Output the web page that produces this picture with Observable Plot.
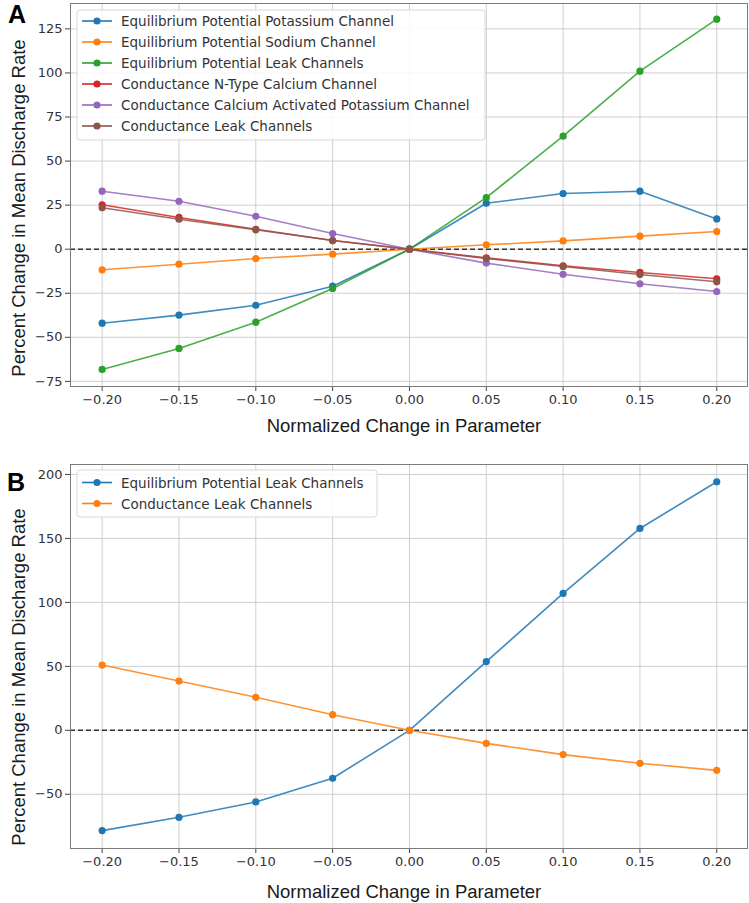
<!DOCTYPE html>
<html>
<head>
<meta charset="utf-8">
<script src="https://cdn.jsdelivr.net/npm/d3@7"></script>
<script src="https://cdn.jsdelivr.net/npm/@observablehq/plot@0.6"></script>
<style>
  html, body { margin: 0; padding: 0; background: white; }
  #wrap { position: relative; width: 749px; height: 903px; overflow: hidden; }
  #panelA { position: absolute; left: 0; top: 0; }
  #panelB { position: absolute; left: 0; top: 440px; }
  #overlay { position: absolute; left: 0; top: 0; pointer-events: none; }
</style>
</head>
<body>
<div id="wrap">
  <div id="panelA"></div>
  <div id="panelB"></div>
  <svg id="overlay" width="749" height="903"></svg>
</div>
<script>
// ---- data ----
const xValues = [-0.20, -0.15, -0.10, -0.05, 0.00, 0.05, 0.10, 0.15, 0.20];
const xTicks = [-0.20, -0.15, -0.10, -0.05, 0.00, 0.05, 0.10, 0.15, 0.20];
const yTicksA = [-75, -50, -25, 0, 25, 50, 75, 100, 125];
const yTicksB = [-50, 0, 50, 100, 150, 200];

const seriesNamesA = [
  "Equilibrium Potential Potassium Channel",
  "Equilibrium Potential Sodium Channel",
  "Equilibrium Potential Leak Channels",
  "Conductance N-Type Calcium Channel",
  "Conductance Calcium Activated Potassium Channel",
  "Conductance Leak Channels"
];
const eqPotassium = [-42.0, -37.4, -31.8, -21.0, 0, 26.1, 31.6, 32.9, 17.2];
const eqSodium    = [-11.7, -8.5, -5.3, -2.8, 0, 2.5, 4.7, 7.4, 10.0];
const eqLeak      = [-68.2, -56.3, -41.4, -22.3, 0, 29.3, 64.1, 101.0, 130.5];
const gNTypeCa    = [25.2, 18.0, 11.3, 4.9, 0, -4.9, -9.4, -13.2, -16.8];
const gCaActK     = [32.9, 27.2, 18.7, 8.9, 0, -7.9, -14.2, -19.6, -24.0];
const gLeak       = [23.5, 17.0, 11.0, 4.9, 0, -5.3, -9.8, -14.4, -18.5];

const seriesNamesB = [
  "Equilibrium Potential Leak Channels",
  "Conductance Leak Channels"
];
const bEqLeak = [-78.4, -68.0, -56.0, -37.5, 0, 53.7, 107.0, 157.8, 194.3];
const bGLeak  = [51.0, 38.5, 25.8, 12.2, 0, -10.2, -19.0, -25.8, -31.3];

const tab10 = ["#1f77b4", "#ff7f0e", "#2ca02c", "#d62728", "#9467bd", "#8c564b"];

// ---- tables ----
function tidy(names, arrays) {
  const rows = [];
  names.forEach((n, i) => arrays[i].forEach((v, j) => rows.push({series: n, order: i, x: xValues[j], y: v})));
  return rows;
}
const dataA = tidy(seriesNamesA, [eqPotassium, eqSodium, eqLeak, gNTypeCa, gCaActK, gLeak]);
const dataB = tidy(seriesNamesB, [bEqLeak, bGLeak]);

const xfmt = d3.format(".2f");
const yfmt = d3.format("d");

function panel(data, names, colors, opts) {
  const marks = [
    Plot.gridX(xTicks, {stroke: "#cfcfcf", strokeOpacity: 1, strokeWidth: 1}),
    Plot.gridY(opts.yTicks, {stroke: "#cfcfcf", strokeOpacity: 1, strokeWidth: 1}),
    Plot.axisX(xTicks, {tickFormat: xfmt, tickSize: 5, tickPadding: 3, label: null, stroke: "#444", fill: "#333"}),
    Plot.axisY(opts.yTicks, {tickFormat: yfmt, tickSize: 5, tickPadding: 3, label: null, stroke: "#444", fill: "#333"}),
    Plot.ruleY([0], {stroke: "#333", strokeDasharray: "5,3", strokeWidth: 1.5})
  ];
  names.forEach((n, i) => {
    const d = data.filter(r => r.series === n);
    marks.push(Plot.line(d, {x: "x", y: "y", stroke: colors[i], strokeWidth: 1.6, strokeOpacity: 0.85}));
    marks.push(Plot.dot(d, {x: "x", y: "y", fill: colors[i], r: 3.6}));
  });
  marks.push(Plot.frame({stroke: "#7a7a7a", strokeWidth: 1}));
  return Plot.plot({
    width: 749,
    height: opts.height,
    marginLeft: 70,
    marginRight: 2,
    marginTop: opts.marginTop,
    marginBottom: opts.marginBottom,
    x: {domain: [-0.2206, 0.22]},
    y: {domain: opts.yDomain},
    style: {fontFamily: "DejaVu Sans", fontSize: "13px", color: "#333", background: "white"},
    marks
  });
}

document.getElementById("panelA").appendChild(panel(dataA, seriesNamesA, tab10, {
  height: 440, marginTop: 3, marginBottom: 54, yDomain: [-77.9, 139.4], yTicks: yTicksA
}));
document.getElementById("panelB").appendChild(panel(dataB, seriesNamesB, tab10.slice(0, 2), {
  height: 463, marginTop: 24, marginBottom: 55, yDomain: [-92.4, 207.8], yTicks: yTicksB
}));

// ---- overlay: panel letters, axis titles, legends ----
const ov = d3.select("#overlay");
function letter(t, x, y) {
  ov.append("text").attr("x", x).attr("y", y).attr("text-anchor", "middle")
    .attr("font-family", "Liberation Sans, Arial, sans-serif").attr("font-weight", "bold")
    .attr("font-size", 25).attr("fill", "#000").text(t);
}
letter("A", 17, 23);
letter("B", 16, 491);

function xTitle(cy) {
  ov.append("text").attr("x", 404).attr("y", cy).attr("text-anchor", "middle")
    .attr("dominant-baseline", "central")
    .attr("font-family", "Liberation Sans, Arial, sans-serif").attr("font-size", 18.5)
    .attr("fill", "#1a1a1a").text("Normalized Change in Parameter");
}
function yTitle(cy) {
  ov.append("text").attr("transform", `translate(18,${cy}) rotate(-90)`)
    .attr("text-anchor", "middle").attr("dominant-baseline", "central")
    .attr("font-family", "Liberation Sans, Arial, sans-serif").attr("font-size", 18.5)
    .attr("fill", "#1a1a1a").text("Percent Change in Mean Discharge Rate");
}
xTitle(425); yTitle(208);
xTitle(891); yTitle(677);

function legend(names, colors, box, rowY) {
  const g = ov.append("g");
  g.append("rect").attr("x", box[0]).attr("y", box[1]).attr("width", box[2]).attr("height", box[3])
    .attr("rx", 3).attr("fill", "white").attr("fill-opacity", 0.85).attr("stroke", "#d8d8d8");
  names.forEach((n, i) => {
    const y = rowY[i];
    g.append("line").attr("x1", 82).attr("x2", 112).attr("y1", y).attr("y2", y)
      .attr("stroke", colors[i]).attr("stroke-width", 1.6);
    g.append("circle").attr("cx", 97).attr("cy", y).attr("r", 3.6).attr("fill", colors[i]);
    g.append("text").attr("x", 121).attr("y", y).attr("dominant-baseline", "central")
      .attr("font-family", "DejaVu Sans").attr("font-size", 13.5).attr("fill", "#333").text(n);
  });
}
legend(seriesNamesA, tab10, [77, 10, 408, 130], [21, 42, 63, 84, 105, 126]);
legend(seriesNamesB, tab10.slice(0, 2), [77, 470, 300, 47], [482.5, 503.5]);
</script>
</body>
</html>
